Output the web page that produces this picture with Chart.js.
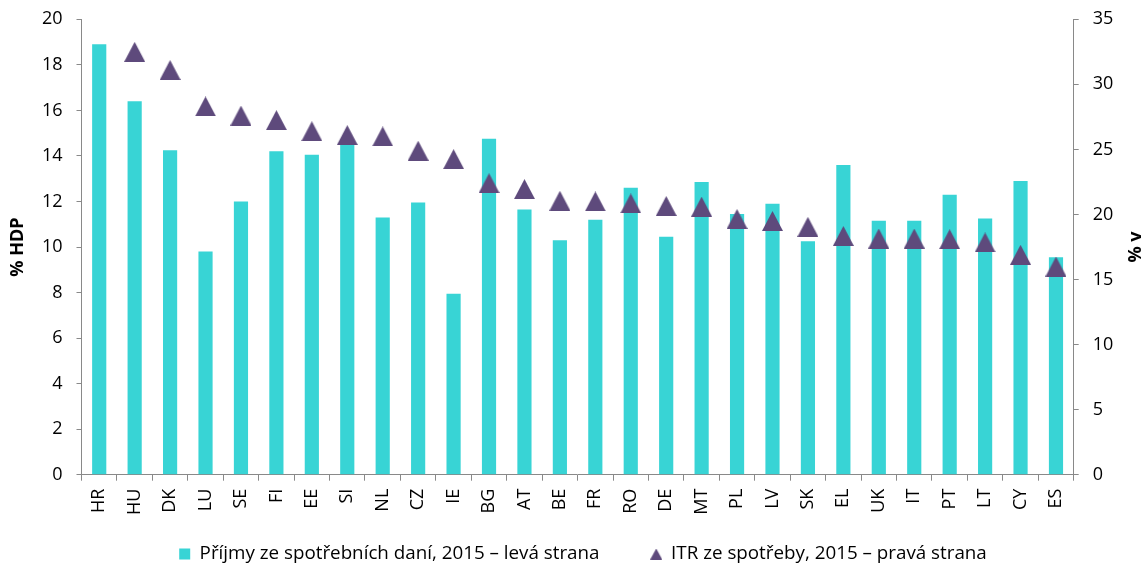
<!DOCTYPE html>
<html><head><meta charset="utf-8">
<script src="https://cdn.jsdelivr.net/npm/chart.js@4/dist/chart.umd.min.js"></script>
<style>html,body{margin:0;padding:0;background:#fff}#wrap{width:1148px;height:568px}</style>
</head><body><div id="wrap"><canvas id="c" width="1148" height="568"></canvas></div>
<script>
const categories = ['HR','HU','DK','LU','SE','FI','EE','SI','NL','CZ','IE','BG','AT','BE','FR','RO','DE','MT','PL','LV','SK','EL','UK','IT','PT','LT','CY','ES'];
const exciseRevenue = [18.9,16.4,14.25,9.8,12.0,14.2,14.05,14.5,11.3,11.95,7.95,14.75,11.65,10.3,11.2,12.6,10.45,12.85,11.45,11.9,10.25,13.6,11.15,11.15,12.3,11.25,12.9,9.55];
const itrConsumption = [null,32.5,31.1,28.3,27.6,27.25,26.4,26.1,26.0,24.9,24.25,22.4,21.95,21.05,21.0,20.85,20.65,20.6,19.65,19.5,19.05,18.35,18.15,18.15,18.1,17.85,16.9,16.0];
const leftAxis = {min: 0, max: 20, step: 2, title: '% HDP'};
const rightAxis = {min: 0, max: 35, step: 5, title: '% v'};
const seriesLabels = ['Příjmy ze spotřebních daní, 2015 – levá strana', 'ITR ze spotřeby, 2015 – pravá strana'];

const BAR_COLOR = '#38D4D5';
const TRI_COLOR = '#5E4A7C';
const AXIS_COLOR = '#898989';
const FONT = '"Open Sans", "DejaVu Sans", sans-serif';

function makeTri(w, h, color) {
  const c = document.createElement('canvas');
  c.width = w; c.height = h;
  const x = c.getContext('2d');
  x.fillStyle = color;
  x.beginPath();
  x.moveTo(w / 2, 0); x.lineTo(w, h); x.lineTo(0, h); x.closePath();
  x.fill();
  return c;
}
const triMarker = makeTri(21, 20, TRI_COLOR);
const triLegend = makeTri(12, 11, TRI_COLOR);

const axisTitles = {
  id: 'axisTitles',
  afterDraw(chart) {
    const ctx = chart.ctx, a = chart.chartArea;
    const cy = (a.top + a.bottom) / 2;
    [[18, leftAxis.title], [1136, rightAxis.title]].forEach(([x, t]) => {
      ctx.save();
      ctx.font = 'bold 18px ' + FONT;
      ctx.fillStyle = '#000';
      ctx.textAlign = 'center';
      ctx.textBaseline = 'middle';
      ctx.translate(x, cy); ctx.rotate(-Math.PI / 2);
      ctx.fillText(t, 0, 0);
      ctx.restore();
    });
  }
};

Chart.defaults.font.family = FONT;
Chart.defaults.font.size = 18;
Chart.defaults.color = '#000';

new Chart(document.getElementById('c'), {
  data: {
    labels: categories,
    datasets: [
      {
        type: 'bar', label: seriesLabels[0], data: exciseRevenue, yAxisID: 'y',
        backgroundColor: BAR_COLOR, barPercentage: 0.4, categoryPercentage: 1.0, order: 2
      },
      {
        type: 'line', label: seriesLabels[1], data: itrConsumption, yAxisID: 'y1',
        showLine: false, pointStyle: triMarker, pointRadius: 10, pointHoverRadius: 10,
        backgroundColor: TRI_COLOR, borderColor: TRI_COLOR, order: 1
      }
    ]
  },
  options: {
    responsive: false,
    animation: false,
    devicePixelRatio: 1,
    layout: {padding: {left: 18, right: 0, top: 19.3, bottom: -5.4}},
    plugins: {
      tooltip: {enabled: false},
      legend: {
        position: 'bottom',
        labels: {
          usePointStyle: true, boxWidth: 11, boxHeight: 11, padding: 15.4,
          font: {size: 18.8, family: FONT}, color: '#000',
          generateLabels: () => [
            {text: seriesLabels[0], fillStyle: BAR_COLOR, strokeStyle: BAR_COLOR, lineWidth: 0, pointStyle: 'rect', datasetIndex: 0, hidden: false, fontColor: '#000'},
            {text: '', fillStyle: 'rgba(0,0,0,0)', strokeStyle: 'rgba(0,0,0,0)', lineWidth: 0, pointStyle: 'rect', hidden: false, fontColor: '#000'},
            {text: seriesLabels[1], fillStyle: TRI_COLOR, strokeStyle: TRI_COLOR, lineWidth: 0, pointStyle: triLegend, datasetIndex: 1, hidden: false, fontColor: '#000'}
          ]
        }
      }
    },
    scales: {
      x: {
        offset: true,
        grid: {display: true, drawOnChartArea: false, drawTicks: true, tickLength: 6, color: AXIS_COLOR, offset: true},
        border: {display: true, color: AXIS_COLOR, width: 1},
        ticks: {maxRotation: 90, minRotation: 90, padding: 8, autoSkip: false, color: '#000', font: {size: 18}},
        afterFit(s) { s.height = 54.5; }
      },
      y: {
        position: 'left', min: leftAxis.min, max: leftAxis.max,
        grid: {display: true, drawOnChartArea: false, drawTicks: true, tickLength: 5, color: AXIS_COLOR},
        border: {display: true, color: AXIS_COLOR, width: 1},
        ticks: {stepSize: leftAxis.step, padding: 14, color: '#000', font: {size: 18, lineHeight: 0.4}},
        afterFit(s) { s.width = 63.5; }
      },
      y1: {
        position: 'right', min: rightAxis.min, max: rightAxis.max,
        grid: {display: true, drawOnChartArea: false, drawTicks: true, tickLength: 5, color: AXIS_COLOR},
        border: {display: true, color: AXIS_COLOR, width: 1},
        ticks: {stepSize: rightAxis.step, padding: 14, color: '#000', font: {size: 18, lineHeight: 0.4}},
        afterFit(s) { s.width = 74.3; }
      }
    }
  },
  plugins: [axisTitles]
});
</script>
</body></html>
